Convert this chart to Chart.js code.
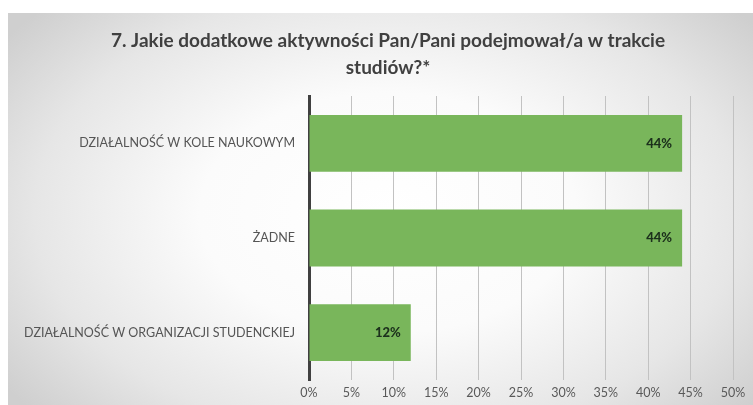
<!DOCTYPE html>
<html><head><meta charset="utf-8">
<script src="https://cdn.jsdelivr.net/npm/chart.js@4.4.0/dist/chart.umd.min.js"></script>
<style>
html,body{margin:0;padding:0;background:#fff;}
#wrap{position:relative;width:753px;height:405px;overflow:hidden;}
#bg{position:absolute;left:8px;top:13px;width:760px;height:400px;
background:radial-gradient(ellipse 62% 75% at 50% 50%, #ffffff 0%, #fbfbfb 40%, #e6e6e6 75%, #cfcfcf 100%);}
canvas{position:absolute;left:0;top:0;}
</style></head>
<body><div id="wrap"><div id="bg"></div><canvas id="c" width="753" height="405"></canvas></div>
<script>
const titleLines = ['7. Jakie dodatkowe aktywności Pan/Pani podejmował/a w trakcie', 'studiów?*'];
const categories = ['DZIAŁALNOŚĆ W KOLE NAUKOWYM', 'ŻADNE', 'DZIAŁALNOŚĆ W ORGANIZACJI STUDENCKIEJ'];
const values = [44, 44, 12];
const tickValues = [0, 5, 10, 15, 20, 25, 30, 35, 40, 45, 50];

const titlePlugin = {
  id: 'centerTitle',
  afterDraw(chart) {
    const ctx = chart.ctx;
    ctx.save();
    ctx.font = 'bold 19px Lato';
    ctx.fillStyle = '#404040';
    ctx.textAlign = 'center';
    ctx.textBaseline = 'middle';
    titleLines.forEach((t, i) => ctx.fillText(t, 388, 41 + i * 27));
    ctx.restore();
  }
};

const labelPlugin = {
  id: 'barLabels',
  afterDatasetsDraw(chart) {
    const ctx = chart.ctx;
    const meta = chart.getDatasetMeta(0);
    ctx.save();
    ctx.font = '900 13px Lato';
    ctx.fillStyle = '#1c301c';
    ctx.textAlign = 'right';
    ctx.textBaseline = 'middle';
    meta.data.forEach((bar, i) => {
      ctx.fillText(values[i] + '%', bar.x - 10, bar.y);
    });
    ctx.restore();
  }
};

new Chart(document.getElementById('c'), {
  type: 'bar',
  data: {
    labels: categories,
    datasets: [{
      data: values,
      backgroundColor: '#79b65b',
      borderWidth: 0,
      categoryPercentage: 0.6,
      barPercentage: 1.0
    }]
  },
  options: {
    indexAxis: 'y',
    responsive: false,
    animation: false,
    layout: { padding: { left: 10, right: 20, top: 96, bottom: 0 } },
    plugins: {
      legend: { display: false },
      tooltip: { enabled: false },
      title: { display: false }
    },
    scales: {
      x: {
        min: 0, max: 50,
        afterBuildTicks(axis) { axis.ticks = tickValues.map(v => ({ value: v })); },
        ticks: {
          callback: v => v + '%',
          color: '#595959',
          font: { family: 'Lato', size: 12.5 },
          padding: 5,
          maxRotation: 0
        },
        grid: { color: '#c2c2c2', lineWidth: 1, drawTicks: false },
        border: { display: false }
      },
      y: {
        afterFit(axis) { axis.width = 299; },
        ticks: {
          color: '#555555',
          font: { family: 'Lato', size: 12.5 },
          padding: 14
        },
        grid: { display: false, drawTicks: false },
        border: { display: true, color: '#404040', width: 3 }
      }
    }
  },
  plugins: [labelPlugin, titlePlugin]
});
</script></body></html>
